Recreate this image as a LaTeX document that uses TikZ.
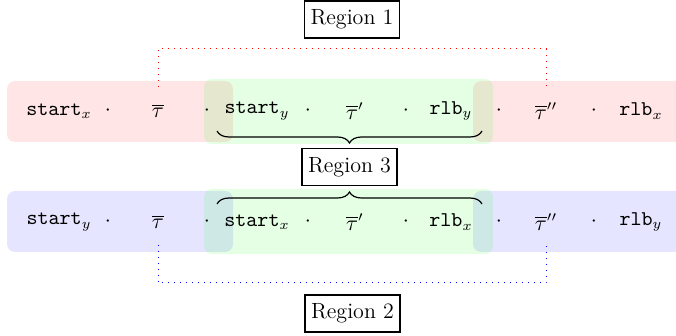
\documentclass[tikz,border=0pt]{standalone}
\usetikzlibrary{decorations.pathreplacing}
\begin{document}
\begin{tikzpicture}[x=0.5pt,y=-0.5pt,
  band/.style={rounded corners=4pt,fill opacity=0.1},
  tok/.style={inner sep=0pt,font=\fontsize{10.5}{12}\selectfont\ttfamily},
  regionbox/.style={draw,line width=0.6pt,inner xsep=3pt,inner ysep=4pt,minimum height=18.5pt,font=\fontsize{11}{13}\selectfont\rmfamily},
  bracestyle/.style={decorate,decoration={brace,amplitude=6pt},line width=0.6pt},
  rdot/.style={red,line width=0.5pt,dash pattern=on 0.5pt off 2.5pt},
  bdot/.style={blue,line width=0.5pt,dash pattern=on 0.5pt off 2.5pt}]
\useasboundingbox (0,0) rectangle (676,336);
\clip (0,0) rectangle (676,336);
% row 1 bands
\fill[band,red] (7,81) rectangle (233,142);
\fill[band,red] (473,81) rectangle (720,142);
\fill[band,green] (204,79) rectangle (493,144);
% row 2 bands
\fill[band,blue] (7,191) rectangle (233,252);
\fill[band,blue] (473,191) rectangle (720,252);
\fill[band,green] (204,189) rectangle (493,254);
% row 1 tokens
\node[tok] (a1) at (59,111) {start$_x$};
\node[tok] (ad1) at (108,111) {$\cdot$};
\node[tok] (at1) at (158,111) {$\overline{\tau}$};
\node[tok] (ad2) at (207,111) {$\cdot$};
\node[tok] (a2) at (257,111) {start$_y$};
\node[tok] (ad3) at (308,111) {$\cdot$};
\node[tok] (at2) at (355,111) {$\overline{\tau}'$};
\node[tok] (ad4) at (406,111) {$\cdot$};
\node[tok] (a3) at (451,111) {rlb$_y$};
\node[tok] (ad5) at (499,111) {$\cdot$};
\node[tok] (at3) at (546,111) {$\overline{\tau}''$};
\node[tok] (ad6) at (594,111) {$\cdot$};
\node[tok] (a4) at (641,111) {rlb$_x$};
% row 2 tokens
\node[tok] (b1) at (59,222) {start$_y$};
\node[tok] (bd1) at (108,222) {$\cdot$};
\node[tok] (bt1) at (158,222) {$\overline{\tau}$};
\node[tok] (bd2) at (207,222) {$\cdot$};
\node[tok] (b2) at (257,222) {start$_x$};
\node[tok] (bd3) at (308,222) {$\cdot$};
\node[tok] (bt2) at (355,222) {$\overline{\tau}'$};
\node[tok] (bd4) at (406,222) {$\cdot$};
\node[tok] (b3) at (451,222) {rlb$_x$};
\node[tok] (bd5) at (499,222) {$\cdot$};
\node[tok] (bt3) at (546,222) {$\overline{\tau}''$};
\node[tok] (bd6) at (594,222) {$\cdot$};
\node[tok] (b4) at (641,222) {rlb$_y$};
% region labels
\node[regionbox] (reg1) at (352,19.5) {Region 1};
\node[regionbox] (reg3) at (349.5,167) {Region 3};
\node[regionbox] (reg2) at (352.5,313.5) {Region 2};
% braces
\coordinate (br1l) at (217,131);
\coordinate (br1r) at (482,131);
\coordinate (br2l) at (217,204);
\coordinate (br2r) at (482,204);
\draw[bracestyle] (br1r) -- (br1l);
\draw[bracestyle] (br2l) -- (br2r);
% dotted connectors
\coordinate (r1a) at (158,49);
\coordinate (r2a) at (158,283);
\draw[rdot] ([yshift=12pt]at1.center) -- (r1a) -| ([yshift=12pt]at3.center);
\draw[bdot] ([yshift=-11.5pt]bt1.center) -- (r2a) -| ([yshift=-11.5pt]bt3.center);
\end{tikzpicture}
\end{document}
